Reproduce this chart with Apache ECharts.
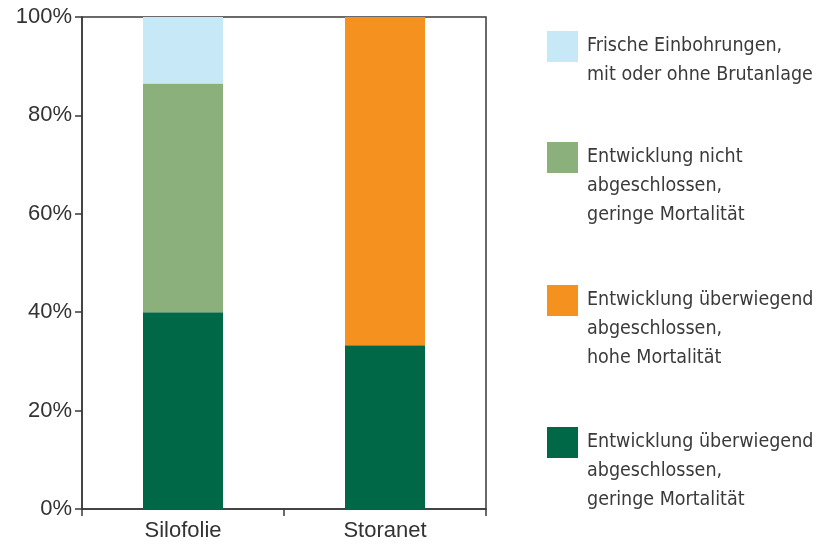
<!DOCTYPE html>
<html><head><meta charset="utf-8">
<script src="https://cdn.jsdelivr.net/npm/echarts@6/dist/echarts.min.js"></script>
<style>html,body{margin:0;padding:0;background:#fff}#c{width:827px;height:545px}</style>
</head><body><div id="c"></div>
<script>
const categories = ['Silofolie', 'Storanet'];
const seriesNames = [
  'Entwicklung überwiegend\nabgeschlossen,\ngeringe Mortalität',
  'Entwicklung überwiegend\nabgeschlossen,\nhohe Mortalität',
  'Entwicklung nicht\nabgeschlossen,\ngeringe Mortalität',
  'Frische Einbohrungen,\nmit oder ohne Brutanlage'
];
const darkGreen = [40, 33.3];
const orange = [null, 66.7];
const lightGreen = [46.5, null];
const lightBlue = [13.5, null];
const yTicks = [0, 20, 40, 60, 80, 100];

const colors = ['#006846', '#f5921f', '#8bb07c', '#c6e8f7'];
const values = [darkGreen, orange, lightGreen, lightBlue];
const FONT = "'Liberation Sans Narrow', 'DejaVu Sans Condensed', 'Roboto Condensed', Roboto, sans-serif";
const AXFONT = "'Liberation Sans', Arial, sans-serif";
const LH = 29;
const legendTops = [427, 285, 142, 31];

const legends = seriesNames.map((n, i) => {
  const lines = n.split('\n').length;
  const h = lines * LH;
  return {
    show: true,
    data: [n],
    left: 547,
    top: legendTops[i],
    orient: 'vertical',
    itemWidth: 31,
    itemHeight: h,
    itemGap: 0,
    padding: 0,
    icon: 'path://M0,0h31v31h-31z M0,' + h + 'h0.01v0.01h-0.01z',
    itemStyle: { borderWidth: 0 },
    selectedMode: false,
    textStyle: { fontFamily: FONT, fontSize: 19.5, color: '#3a3a3a', lineHeight: LH, padding: [0, 0, 0, 4] }
  };
});

const chart = echarts.init(document.getElementById('c'));
chart.setOption({
  animation: false,
  legend: legends,
  grid: { left: 82, right: 341, top: 17, bottom: 36, show: true, borderColor: '#3a3a3a', borderWidth: 1.5, backgroundColor: 'transparent' },
  xAxis: {
    type: 'category', data: categories,
    axisLine: { lineStyle: { color: '#3a3a3a', width: 1.5 } },
    axisTick: { show: true, length: 7, lineStyle: { color: '#3a3a3a', width: 1.5 } },
    axisLabel: { fontFamily: AXFONT, fontSize: 22, color: '#333', margin: 11 }
  },
  yAxis: {
    type: 'value', min: 0, max: 100, interval: 20,
    axisLine: { show: true, lineStyle: { color: '#3a3a3a', width: 1.5 } },
    axisTick: { show: true, length: 7, lineStyle: { color: '#3a3a3a', width: 1.5 } },
    splitLine: { show: false },
    axisLabel: { fontFamily: AXFONT, fontSize: 22, color: '#333', margin: 10,
      formatter: v => yTicks.includes(v) ? v + '%' : '' }
  },
  series: seriesNames.map((n, i) => ({
    name: n, type: 'bar', stack: 'total', barWidth: 80,
    itemStyle: { color: colors[i] },
    data: values[i]
  }))
});
</script></body></html>
